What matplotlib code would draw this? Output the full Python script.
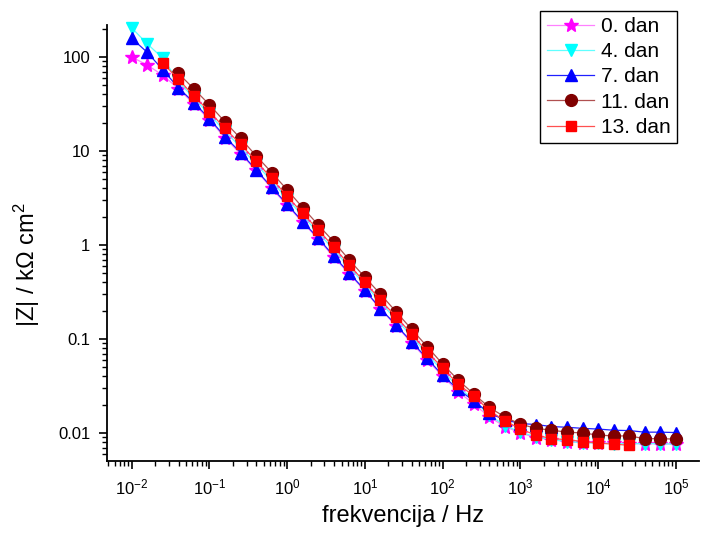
import math
import matplotlib
matplotlib.use('Agg')
import matplotlib.pyplot as plt
from matplotlib.ticker import FixedLocator, LogLocator, FuncFormatter, NullFormatter

plt.rc('font', family=['Liberation Sans', 'DejaVu Sans'])
plt.rc('mathtext', default='regular')

# frequency (Hz), 5 points per decade
freq = [0.01, 0.0158, 0.0251, 0.0398, 0.0631, 0.1, 0.158, 0.251, 0.398, 0.631,
        1, 1.58, 2.51, 3.98, 6.31, 10, 15.8, 25.1, 39.8, 63.1,
        100, 158, 251, 398, 631, 1000, 1580, 2510, 3980, 6310,
        10000, 15800, 25100, 39800, 63100, 100000]

# |Z| in kOhm cm2
z_day0 = [100, 82, 64, 46, 31.6, 21.4, 13.8, 9.3, 6.2, 4.0,
          2.63, 1.74, 1.15, 0.74, 0.49, 0.324, 0.209, 0.138, 0.091, 0.060,
          0.040, 0.0275, 0.0204, 0.0148, 0.0117, 0.0100, 0.0089, 0.0085, 0.0081, 0.0079,
          0.0078, 0.0078, 0.0077, 0.0077, 0.0077, 0.0076]
z_day4 = [204, 138, 97, 55, 36.3, 24.5, 16.2, 11.0, 7.24, 4.79,
          3.09, 2.04, 1.35, 0.89, 0.575, 0.38, 0.245, 0.162, 0.107, 0.069,
          0.0457, 0.0309, 0.0224, 0.0155, 0.012, 0.0102, 0.0091, 0.0085, 0.0081, 0.0079,
          0.0078, 0.0077, 0.0077, 0.0077, 0.0077, 0.0076]
z_day7 = [158, 112, 73, 47, 32.7, 22, 14.2, 9.6, 6.3, 4.1,
          2.7, 1.77, 1.18, 0.76, 0.50, 0.33, 0.21, 0.141, 0.093, 0.062,
          0.041, 0.029, 0.022, 0.0162, 0.0138, 0.0126, 0.0123, 0.0117, 0.0115, 0.0112,
          0.011, 0.0107, 0.0106, 0.0102, 0.0102, 0.0101]
z_day11 = [67, 45.7, 31, 20.4, 13.6, 8.9, 5.9, 3.85, 2.5, 1.63,
           1.08, 0.69, 0.453, 0.30, 0.195, 0.127, 0.083, 0.054, 0.0366, 0.026,
           0.0187, 0.0148, 0.0124, 0.0112, 0.0107, 0.0102, 0.0100, 0.0095, 0.0093, 0.0093,
           0.0087, 0.0087, 0.0086]
z_day13 = [86, 58, 38.5, 26.2, 17.4, 11.8, 7.8, 5.1, 3.3, 2.17,
           1.45, 0.95, 0.61, 0.40, 0.26, 0.173, 0.113, 0.073, 0.049, 0.033,
           0.0248, 0.0173, 0.0135, 0.011, 0.0095, 0.0087, 0.0085, 0.0081, 0.0078, 0.0076,
           0.0074]

labels = ['0. dan', '4. dan', '7. dan', '11. dan', '13. dan']
x_ticks = [1e-2, 1e-1, 1e0, 1e1, 1e2, 1e3, 1e4, 1e5]
y_ticks = [0.01, 0.1, 1, 10, 100]

fig = plt.figure(figsize=(7.02, 5.37), dpi=100)
ax = fig.add_axes([0.1524, 0.1415, 0.843, 0.812])

ax.plot(freq, z_day0, '-', color='#ff80ff', lw=0.9, marker='*', ms=10.5,
        mfc='#ff00ff', mec='#ff00ff', label=labels[0], clip_on=False)
ax.plot(freq, z_day4, '-', color='#60ffff', lw=0.9, marker='v', ms=9,
        mfc='#00ffff', mec='#00ffff', label=labels[1], clip_on=False)
ax.plot(freq, z_day7, '-', color='#2020ff', lw=0.9, marker='^', ms=9,
        mfc='#0000ff', mec='#0000ff', label=labels[2], clip_on=False)
ax.plot(freq[3:], z_day11, '-', color='#b05050', lw=0.9, marker='o', ms=8.5,
        mfc='#800000', mec='#800000', label=labels[3], clip_on=False)
ax.plot(freq[2:33], z_day13, '-', color='#ff5050', lw=0.9, marker='s', ms=7.5,
        mfc='#ff0000', mec='#ff0000', label=labels[4], clip_on=False)

ax.set_xscale('log')
ax.set_yscale('log')
ax.set_xlim(0.0048, 1.97e5)
ax.set_ylim(0.00503, 219)

ax.spines['top'].set_visible(False)
ax.spines['right'].set_visible(False)
for s in ['left', 'bottom']:
    ax.spines[s].set_linewidth(1.3)

ax.xaxis.set_major_locator(FixedLocator(x_ticks))
ax.xaxis.set_major_formatter(FuncFormatter(lambda v, p: '$10^{%d}$' % round(math.log10(v))))
ax.xaxis.set_minor_locator(LogLocator(base=10, subs=range(2, 10), numticks=20))
ax.xaxis.set_minor_formatter(NullFormatter())
ax.yaxis.set_major_locator(FixedLocator(y_ticks))
ax.yaxis.set_major_formatter(FuncFormatter(lambda v, p: '%g' % v))
ax.yaxis.set_minor_locator(LogLocator(base=10, subs=range(2, 10), numticks=20))
ax.yaxis.set_minor_formatter(NullFormatter())

ax.tick_params(which='major', direction='out', length=6, width=1.2, labelsize=12, pad=6)
ax.tick_params(which='minor', direction='out', length=3.5, width=1.0)

ax.set_xlabel('frekvencija / Hz', fontsize=17, labelpad=5)
ax.set_ylabel('|Z| / k$\\Omega$ cm$^{2}$', fontsize=17)
ax.yaxis.set_label_coords(-0.11, 0.45)

leg = ax.legend(loc='upper right', bbox_to_anchor=(0.964, 0.980),
                bbox_transform=fig.transFigure, fontsize=15, frameon=True,
                fancybox=False, framealpha=1, edgecolor='black',
                handlelength=2.3, handletextpad=0.3, labelspacing=0.3,
                borderpad=0.3, borderaxespad=0)
leg.get_frame().set_linewidth(1.0)

fig.savefig('out.png', dpi=100)
